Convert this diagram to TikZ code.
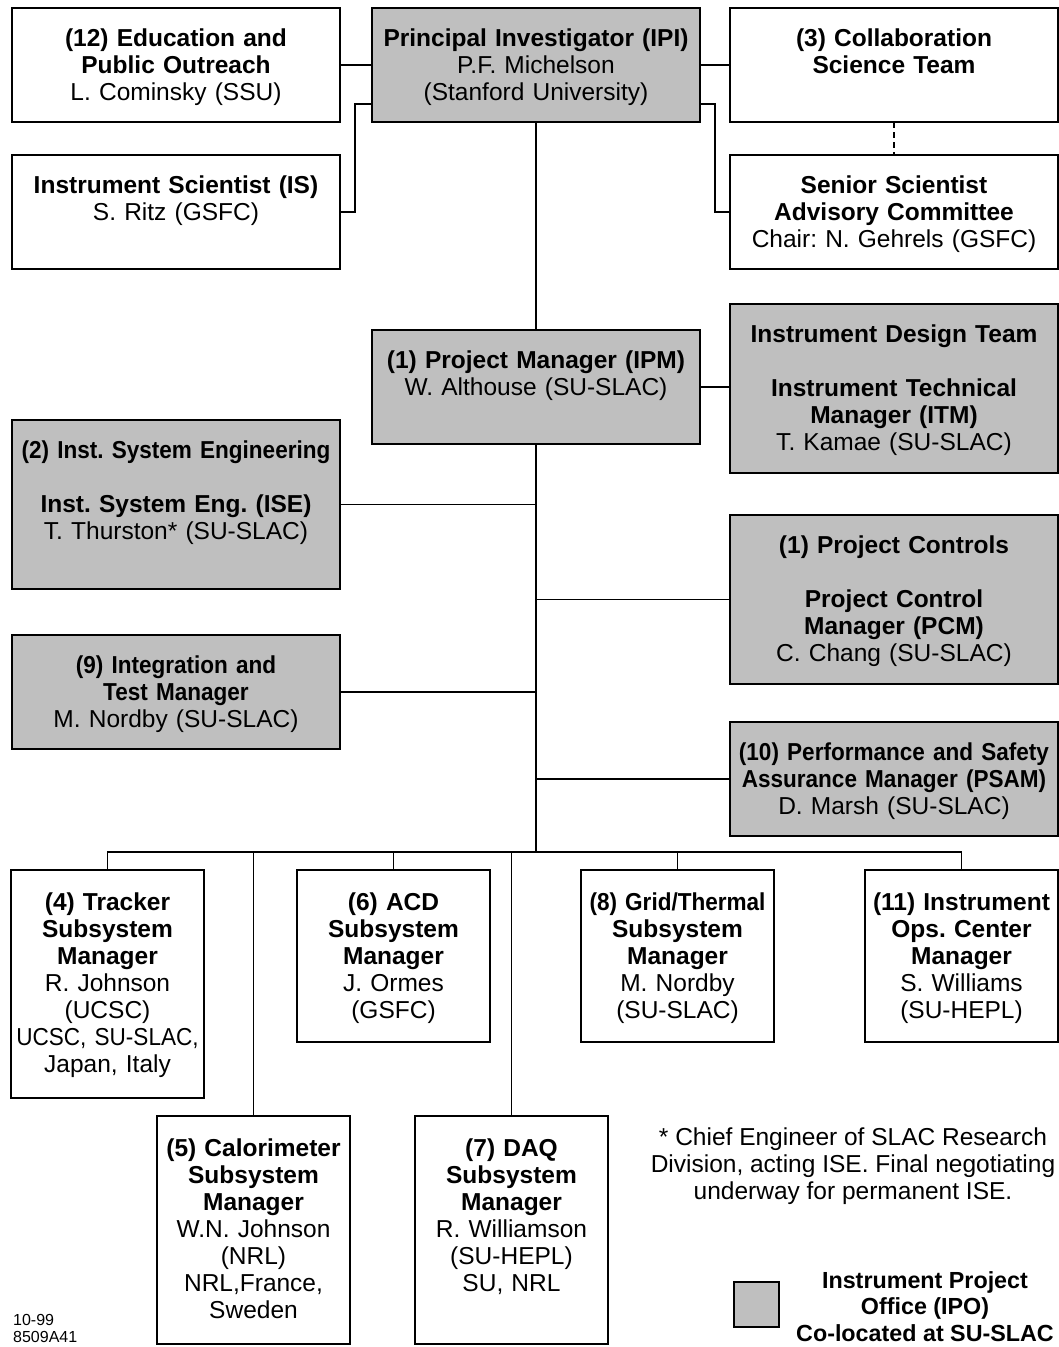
\documentclass[tikz,border=0pt]{standalone}
\usepackage{fontspec}
\setmainfont{Liberation Sans}
\newfontfamily\narrowfont{Liberation Sans}[FakeStretch=0.92]
\usetikzlibrary{positioning}
\definecolor{ipogray}{gray}{0.75}
\newcommand\tightbf[1]{{\narrowfont\bfseries #1}}
\frenchspacing

\begin{document}
\begin{tikzpicture}[
  x=1pt, y=-1pt,
  node distance=33pt and 32pt,
  box/.style={draw, line width=2.2pt, outer sep=0pt, anchor=north west, align=center, inner sep=0pt,
    text height=38pt, font=\fontsize{24.5}{27}\selectfont},
  ipo/.style={fill=ipogray},
  wide/.style={text width=328pt, text depth=76pt},
  widetall/.style={text width=328pt, text depth=131pt},
  sub/.style={text width=193pt, text height=40pt, text depth=132pt},
  subtall/.style={text width=193pt, text height=40pt, text depth=188pt},
  link/.style={line width=1.3pt}
]
  \useasboundingbox (0,0) rectangle (1059,1347);

  \node[box, wide] (epo) at (12,8) {\textbf{(12) Education and}\\\textbf{Public Outreach}\\L. Cominsky (SSU)};
  \node[box, ipo, wide, right=of epo] (ipi) {\textbf{Principal Investigator (IPI)}\\P.F. Michelson\\(Stanford University)};
  \node[box, wide, right=30pt of ipi] (collab) {\textbf{(3) Collaboration}\\\textbf{Science Team}};
  \node[box, wide, below=of epo] (is) {\textbf{Instrument Scientist (IS)}\\S. Ritz (GSFC)};
  \node[box, wide, below=of collab] (ssac) {\textbf{Senior Scientist}\\\textbf{Advisory Committee}\\Chair: N. Gehrels (GSFC)};

  \node[box, ipo, wide] (pm) at (372,330) {\textbf{(1) Project Manager (IPM)}\\W. Althouse (SU-SLAC)};
  \node[box, ipo, widetall] (itm) at (730,304) {\textbf{Instrument Design Team}\\[27pt]\textbf{Instrument Technical}\\\textbf{Manager (ITM)}\\T. Kamae (SU-SLAC)};
  \node[box, ipo, widetall] (ise) at (12,420) {\tightbf{(2) Inst. System Engineering}\\[27pt]\textbf{Inst. System Eng. (ISE)}\\T. Thurston* (SU-SLAC)};
  \node[box, ipo, widetall] (pc) at (730,515) {\textbf{(1) Project Controls}\\[27pt]\textbf{Project Control}\\\textbf{Manager (PCM)}\\C. Chang (SU-SLAC)};
  \node[box, ipo, wide] (itest) at (12,635) {\tightbf{(9) Integration and}\\\tightbf{Test Manager}\\M. Nordby (SU-SLAC)};
  \node[box, ipo, wide] (psam) at (730,722) {\tightbf{(10) Performance and Safety}\\\tightbf{Assurance Manager (PSAM)}\\D. Marsh (SU-SLAC)};

  \node[box, subtall] (tracker) at (11,870) {\textbf{(4) Tracker}\\\textbf{Subsystem}\\\textbf{Manager}\\R. Johnson\\(UCSC)\\{\narrowfont UCSC, SU-SLAC,}\\Japan, Italy};
  \node[box, subtall] (cal) at (157,1116) {\textbf{(5) Calorimeter}\\\textbf{Subsystem}\\\textbf{Manager}\\W.N. Johnson\\(NRL)\\NRL,France,\\Sweden};
  \node[box, sub] (acd) at (297,870) {\textbf{(6) ACD}\\\textbf{Subsystem}\\\textbf{Manager}\\J. Ormes\\(GSFC)};
  \node[box, subtall] (daq) at (415,1116) {\textbf{(7) DAQ}\\\textbf{Subsystem}\\\textbf{Manager}\\R. Williamson\\(SU-HEPL)\\SU, NRL};
  \node[box, sub] (grid) at (581,870) {\tightbf{(8) Grid/Thermal}\\\textbf{Subsystem}\\\textbf{Manager}\\M. Nordby\\(SU-SLAC)};
  \node[box, sub] (ops) at (865,870) {\textbf{(11) Instrument}\\\textbf{Ops. Center}\\\textbf{Manager}\\S. Williams\\(SU-HEPL)};

  \node[font=\fontsize{24.5}{27}\selectfont, align=center, anchor=north, inner sep=0pt] (note) at (853,1128) {* Chief Engineer of SLAC Research\\Division, acting ISE. Final negotiating\\underway for permanent ISE.};
  \node[draw, line width=2.2pt, fill=ipogray, minimum size=45pt, anchor=north west] (ipokey) at (733,1281) {};
  \node[font=\fontsize{23.3}{26.7}\selectfont\bfseries, align=center, anchor=north, inner sep=0pt] (ipolabel) at (925,1271) {Instrument Project\\Office (IPO)\\Co-located at SU-SLAC};
  \node[font=\fontsize{16}{16.7}\selectfont, align=left, anchor=north west, inner sep=0pt] (stamp) at (13,1314) {10-99\\8509A41};

  \draw[link] (epo) -- (ipi);
  \draw[link] (ipi) -- (collab);
  \draw[link] (is.east) -| ([xshift=-17pt,yshift=18pt]ipi.south west) -- ([yshift=18pt]ipi.south west);
  \draw[link] (ssac.west) -| ([xshift=15pt,yshift=18pt]ipi.south east) -- ([yshift=18pt]ipi.south east);
  \draw[link, dash pattern=on 6pt off 4pt] (collab) -- (ssac);

  \coordinate (bus) at ([yshift=-408pt]pm.south);
  \draw[link] (ipi) -- (pm);
  \draw[link] (pm) -- (bus);
  \draw[link] (pm.east) -- (pm.east -| itm.west);
  \foreach \side in {ise, itest} \draw[link] (\side.east) -- (\side.east -| bus);
  \foreach \side in {pc, psam} \draw[link] (\side.west) -- (\side.west -| bus);
  \draw[link] (tracker.north) |- (bus) -| (ops.north);
  \foreach \sub in {cal, acd, daq, grid} \draw[link] (\sub.north) -- (\sub.north |- bus);
\end{tikzpicture}
\end{document}
